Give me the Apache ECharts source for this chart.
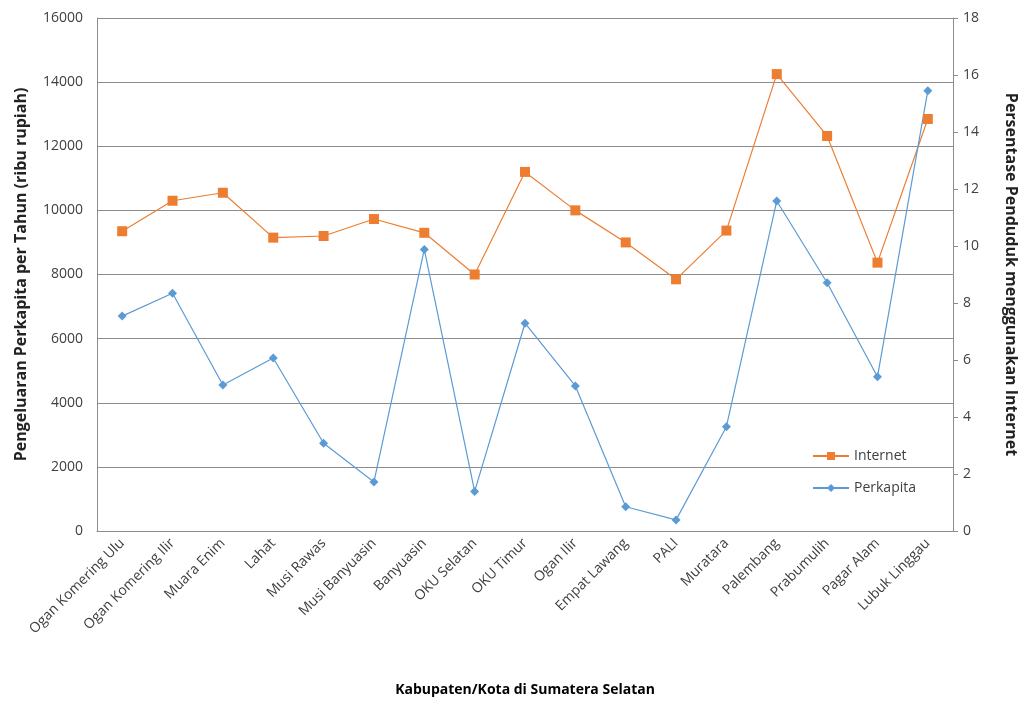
<!DOCTYPE html>
<html>
<head>
<meta charset="utf-8">
<script src="https://cdn.jsdelivr.net/npm/echarts@6/dist/echarts.min.js"></script>
<style>html,body{margin:0;padding:0;background:#fff}#c{width:1027px;height:704px}</style>
</head>
<body>
<div id="c"></div>
<script>
const categories = ["Ogan Komering Ulu","Ogan Komering Ilir","Muara Enim","Lahat","Musi Rawas","Musi Banyuasin","Banyuasin","OKU Selatan","OKU Timur","Ogan Ilir","Empat Lawang","PALI","Muratara","Palembang","Prabumulih","Pagar Alam","Lubuk Linggau"];
const internetValues = [9350,10300,10550,9150,9200,9730,9300,8000,11200,10000,9000,7850,9370,14250,12320,8370,12850];
const perkapitaValues = [7.54,8.34,5.12,6.07,3.08,1.72,9.88,1.39,7.29,5.09,0.85,0.39,3.66,11.58,8.71,5.41,15.45];
const leftTicks = {min:0,max:16000,interval:2000};
const rightTicks = {min:0,max:18,interval:2};

const font = "'Open Sans', 'Liberation Sans', sans-serif";
const chart = echarts.init(document.getElementById('c'));
chart.setOption({
  animation:false,
  textStyle:{fontFamily:font},
  grid:{left:97,right:72,top:18,bottom:173},
  legend:{
    orient:'vertical', left:807, top:444, itemGap:18,
    itemWidth:36, itemHeight:10,
    textStyle:{fontFamily:font,fontSize:14,color:'#404040'},
    data:['Internet','Perkapita']
  },
  xAxis:{
    type:'category', data:categories, boundaryGap:true,
    axisLine:{lineStyle:{color:'#8c8c8c'}},
    axisTick:{show:false},
    axisLabel:{rotate:45,fontSize:14,color:'#404040',interval:0,margin:10,fontFamily:font},
    name:'Kabupaten/Kota di Sumatera Selatan', nameLocation:'middle', nameGap:152,
    nameTextStyle:{fontWeight:'bold',fontSize:14,color:'#000',fontFamily:font}
  },
  yAxis:[
    {type:'value',min:leftTicks.min,max:leftTicks.max,interval:leftTicks.interval,
     axisLine:{show:true,lineStyle:{color:'#8c8c8c'}},
     axisTick:{show:false},
     axisLabel:{fontSize:14,color:'#404040',margin:14,fontFamily:font,formatter:function(v){return String(v);}},
     splitLine:{show:true,lineStyle:{color:'#8c8c8c',width:1}},
     name:'Pengeluaran Perkapita per Tahun (ribu rupiah)', nameLocation:'middle', nameGap:68,
     nameTextStyle:{fontWeight:'bold',fontSize:16,color:'#222',fontFamily:font}
    },
    {type:'value',min:rightTicks.min,max:rightTicks.max,interval:rightTicks.interval,position:'right',
     axisLine:{show:true,lineStyle:{color:'#8c8c8c'}},
     axisTick:{show:true,length:5,lineStyle:{color:'#8c8c8c'}},
     axisLabel:{fontSize:14,color:'#404040',margin:10,fontFamily:font},
     splitLine:{show:false},
     name:'Persentase Penduduk menggunakan Internet', nameLocation:'middle', nameGap:50, nameRotate:-90,
     nameTextStyle:{fontWeight:'bold',fontSize:16,color:'#222',fontFamily:font}
    }
  ],
  series:[
    {name:'Internet',type:'line',yAxisIndex:0,data:internetValues,
     symbol:'rect',symbolSize:10,
     lineStyle:{color:'#ED7D31',width:1.2},
     itemStyle:{color:'#ED7D31'}},
    {name:'Perkapita',type:'line',yAxisIndex:1,data:perkapitaValues,
     symbol:'diamond',symbolSize:9,
     lineStyle:{color:'#5B9BD5',width:1.2},
     itemStyle:{color:'#5B9BD5'}}
  ]
});
</script>
</body>
</html>
